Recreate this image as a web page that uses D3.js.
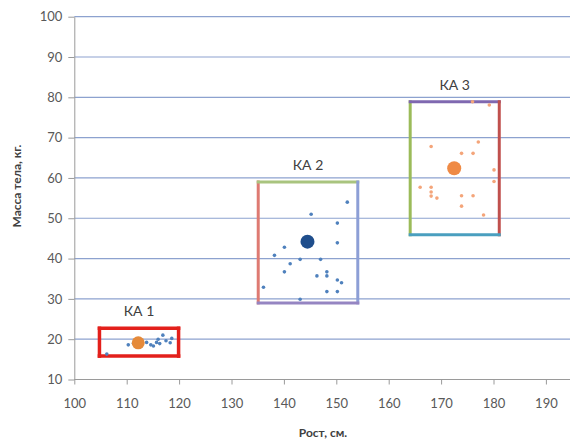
<!DOCTYPE html>
<html><head><meta charset="utf-8">
<script src="https://cdn.jsdelivr.net/npm/d3@7"></script>
<style>body{margin:0;background:#fff}svg{display:block}</style>
</head><body>
<svg id="c" width="570" height="444"></svg>
<script>
const xTicks = [100,110,120,130,140,150,160,170,180,190];
const yTicks = [10,20,30,40,50,60,70,80,90,100];

const ka1Points = [[106.2,16.3],[110.3,18.6],[111.3,19.0],[113.8,19.2],[114.6,18.6],[115.1,18.3],[115.7,19.2],[116.0,20.0],[116.9,21.0],[117.5,19.6],[118.3,19.1],[118.6,20.2],[116.3,18.9]];
const ka2Points = [[152.1,54.0],[145.2,51.0],[150.2,48.8],[140.1,42.8],[150.2,43.9],[138.2,40.8],[143.1,39.8],[147.0,39.8],[141.2,38.7],[140.1,36.7],[146.3,35.7],[148.2,36.7],[148.2,35.7],[150.2,34.7],[151.0,34.0],[136.1,32.9],[148.2,31.8],[150.2,31.8],[143.1,29.9]];
const ka3Points = [[179.2,78.1],[176.0,78.9],[177.1,68.9],[168.1,67.8],[173.9,66.1],[176.1,66.1],[180.1,62.0],[180.1,59.1],[166.0,57.7],[168.1,57.7],[168.1,56.5],[168.1,55.5],[169.2,55.0],[173.9,55.6],[176.1,55.6],[173.9,53.0],[178.1,50.8]];

const centers = [[112.2,19.1],[144.5,44.2],[172.5,62.4]];
const boxNames = ["КА 1","КА 2","КА 3"];
const boxX0 = [104.8,135.1,164.1];
const boxX1 = [119.9,154.1,181.1];
const boxY0 = [15.8,29.0,45.9];
const boxY1 = [22.7,59.0,78.9];

const svg = d3.select("#c");
const x = d3.scaleLinear().domain([100,200]).range([74.3,598.3]);
const y = d3.scaleLinear().domain([10,100]).range([379.5,16.7]);
const font = "Lato, 'Open Sans', sans-serif";

// gridlines
svg.append("g").selectAll("line").data(yTicks.slice(1)).join("line")
  .attr("x1", x(100)).attr("x2", 570)
  .attr("y1", d=>y(d)).attr("y2", d=>y(d))
  .attr("stroke", "#8da2cf").attr("stroke-width", 1.2);

// axes
const xAxis = svg.append("g").attr("transform", `translate(0,${y(10)})`)
  .call(d3.axisBottom(x).tickValues(xTicks).tickSize(5).tickSizeOuter(0).tickPadding(14));
xAxis.select(".domain").attr("stroke","#9a9a9a").attr("d", `M${x(100)},0H570`);
xAxis.selectAll(".tick line").attr("stroke","#9a9a9a");
xAxis.selectAll("text").attr("fill","#595959").attr("font-size",13).attr("font-family",font);

const yAxis = svg.append("g").attr("transform", `translate(${x(100)},0)`)
  .call(d3.axisLeft(y).tickValues(yTicks).tickSize(6).tickSizeOuter(0).tickPadding(6));
yAxis.select(".domain").attr("stroke","#9a9a9a");
yAxis.selectAll(".tick line").attr("stroke","#9a9a9a");
yAxis.selectAll("text").attr("fill","#595959").attr("font-size",13).attr("font-family",font);

// box sides: [left, top, right, bottom] colours
const sideColors = [
  ["#e3201b","#e3201b","#e3201b","#e3201b"],
  ["#de7a72","#a9c47f","#8d9fd6","#9585c2"],
  ["#9bbb59","#7f68b0","#c0504d","#4a9fbf"]
];
boxNames.forEach((name,i)=>{
  const sides = [
    [boxX0[i],boxY0[i],boxX0[i],boxY1[i]],
    [boxX0[i],boxY1[i],boxX1[i],boxY1[i]],
    [boxX1[i],boxY1[i],boxX1[i],boxY0[i]],
    [boxX1[i],boxY0[i],boxX0[i],boxY0[i]]
  ];
  svg.append("g").selectAll("line").data(sides).join("line")
    .attr("x1",d=>x(d[0])).attr("y1",d=>y(d[1]))
    .attr("x2",d=>x(d[2])).attr("y2",d=>y(d[3]))
    .attr("stroke",(d,j)=>sideColors[i][j])
    .attr("stroke-width", i===0?3.5:3)
    .attr("stroke-linecap","square");
  svg.append("text").attr("x", x((boxX0[i]+boxX1[i])/2)).attr("y", y(boxY1[i]) - 12)
    .attr("text-anchor","middle").attr("font-size",14).attr("font-family",font)
    .attr("fill","#404040").text(name);
});

// small points
const pointSets = [[ka1Points,"#4f81bd"],[ka2Points,"#4f81bd"],[ka3Points,"#f4a57a"]];
pointSets.forEach(([pts,col])=>{
  svg.append("g").selectAll("circle").data(pts).join("circle")
    .attr("cx",d=>x(d[0])).attr("cy",d=>y(d[1])).attr("r",1.8).attr("fill",col);
});

// centres
const centerColors = ["#e58a3a","#1f4e8c","#ef8a45"];
const centerR = [6.5,7,7];
svg.append("g").selectAll("circle").data(centers).join("circle")
  .attr("cx",d=>x(d[0])).attr("cy",d=>y(d[1])).attr("r",(d,i)=>centerR[i])
  .attr("fill",(d,i)=>centerColors[i]);

// axis titles
svg.append("text").attr("x",323).attr("y",437).attr("text-anchor","middle")
  .attr("font-size",12).attr("font-weight","bold").attr("font-family",font)
  .attr("fill","#404040").text("Рост, см.");
svg.append("text").attr("transform","translate(21,186) rotate(-90)").attr("text-anchor","middle")
  .attr("font-size",12).attr("font-weight","bold").attr("font-family",font)
  .attr("fill","#404040").text("Масса тела, кг.");
</script>
</body></html>
